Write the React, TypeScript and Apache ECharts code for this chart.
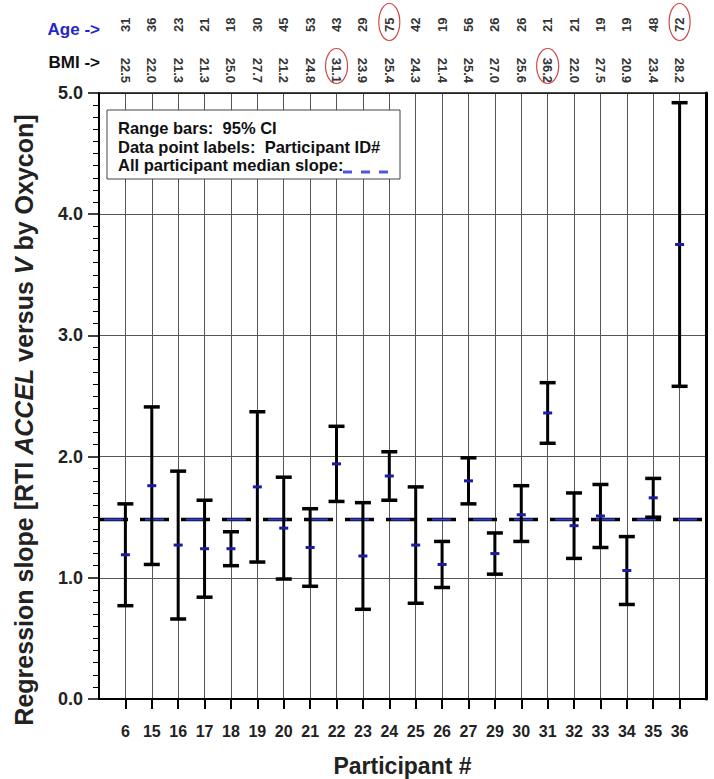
import React, { useEffect, useRef } from "react";
import * as echarts from "echarts";

// ---- data ----
const participants = [6, 15, 16, 17, 18, 19, 20, 21, 22, 23, 24, 25, 26, 27, 29, 30, 31, 32, 33, 34, 35, 36];
const ages = [31, 36, 23, 21, 18, 30, 45, 53, 43, 29, 75, 42, 19, 56, 26, 26, 21, 21, 19, 19, 48, 72];
const bmis = ["22.5", "22.0", "21.3", "21.3", "25.0", "27.7", "21.2", "24.8", "31.1", "23.9", "25.4", "24.3", "21.4", "25.4", "27.0", "25.6", "36.2", "22.0", "27.5", "20.9", "23.4", "28.2"];
const slopes = [1.19, 1.76, 1.27, 1.24, 1.24, 1.75, 1.41, 1.25, 1.94, 1.18, 1.84, 1.27, 1.11, 1.8, 1.2, 1.52, 2.36, 1.43, 1.51, 1.06, 1.66, 3.75];
const ciLow = [0.77, 1.11, 0.66, 0.84, 1.1, 1.13, 0.99, 0.93, 1.63, 0.74, 1.64, 0.79, 0.92, 1.61, 1.03, 1.3, 2.11, 1.16, 1.25, 0.78, 1.5, 2.58];
const ciHigh = [1.61, 2.41, 1.88, 1.64, 1.38, 2.37, 1.83, 1.57, 2.25, 1.62, 2.04, 1.75, 1.3, 1.99, 1.37, 1.76, 2.61, 1.7, 1.77, 1.34, 1.82, 4.92];
const medianAll = 1.48;
const yTicks = [0, 1, 2, 3, 4, 5];
const circledBmi = [22, 31];
const circledAge = [24, 36];

const FF = '"Liberation Sans", Arial, Helvetica, sans-serif';

export default function App() {
  const ref = useRef<HTMLDivElement>(null);
  useEffect(() => {
    document.body.style.margin = "0";
    const chart = echarts.init(ref.current!, null, { renderer: "svg" });
    const n = participants.length;
    const idx = participants.map((_, i) => i + 1);
    const labelOf = (arr: any[]) => (v: number) => (v >= 1 && v <= n ? String(arr[Math.round(v) - 1]) : "");

    const option: any = {
      animation: false,
      grid: { left: 99, right: 8, top: 93, bottom: 80, containLabel: false, outerBoundsMode: "none" },
      xAxis: [
        {
          type: "value", min: 0, max: n + 1, interval: 1, position: "bottom",
          axisLine: { show: true, onZero: false, lineStyle: { color: "#000", width: 2 } },
          axisTick: { show: true, length: 10, customValues: idx, lineStyle: { color: "#000", width: 2 } },
          axisLabel: { formatter: labelOf(participants), margin: 24, fontSize: 16, fontWeight: "bold", color: "#222", fontFamily: FF, customValues: idx },
          splitLine: { show: true, lineStyle: { color: "#555", width: 1 } },
          name: "Participant #", nameLocation: "middle", nameGap: 55,
          nameTextStyle: { fontSize: 23, fontWeight: "bold", color: "#222", fontFamily: FF },
        },
        {
          type: "value", min: 0, max: n + 1, interval: 1, position: "top",
          axisLine: { show: true, onZero: false, lineStyle: { color: "#111", width: 1.5 } },
          axisTick: { show: false },
          axisLabel: { rotate: 90, margin: 10, formatter: labelOf(bmis), fontSize: 13, fontWeight: "bold", color: "#333", fontFamily: FF },
          splitLine: { show: false },
        },
        {
          type: "value", min: 0, max: n + 1, interval: 1, position: "top", offset: 51,
          axisLine: { show: false }, axisTick: { show: false },
          axisLabel: { rotate: 90, margin: 10, formatter: labelOf(ages), fontSize: 13, fontWeight: "bold", color: "#333", fontFamily: FF },
          splitLine: { show: false },
        },
      ],
      yAxis: [
        {
          type: "value", min: yTicks[0], max: yTicks[yTicks.length - 1], interval: 1,
          axisLine: { show: true, onZero: false, lineStyle: { color: "#000", width: 2 } },
          axisTick: { show: true, length: 11, lineStyle: { color: "#000", width: 1.5 } },
          minorTick: { show: true, splitNumber: 10, length: 6, lineStyle: { color: "#000", width: 1 } },
          axisLabel: { formatter: (v: number) => v.toFixed(1), margin: 16, fontSize: 18, fontWeight: "bold", color: "#222", fontFamily: FF },
          splitLine: { show: true, lineStyle: { color: "#555", width: 1 } },
        },
        {
          type: "value", min: yTicks[0], max: yTicks[yTicks.length - 1], position: "right",
          axisLine: { show: true, onZero: false, lineStyle: { color: "#000", width: 3 } },
          axisTick: { show: false }, axisLabel: { show: false }, splitLine: { show: false },
        },
      ],
      series: [
        {
          type: "line", xAxisIndex: 0, yAxisIndex: 0, z: 2, symbol: "none", silent: true,
          data: [[0, medianAll], [n + 1, medianAll]],
          lineStyle: { color: "#000", width: 3.5, type: [29, 12] },
        },
        {
          type: "line", xAxisIndex: 0, yAxisIndex: 0, z: 3, symbol: "none", silent: true,
          data: [[0, medianAll], [n + 1, medianAll]],
          lineStyle: { color: "#2f3fd6", width: 2, type: [19, 22], dashOffset: 36 },
        },
        {
          type: "custom", xAxisIndex: 0, yAxisIndex: 0, z: 5,
          data: participants.map((_, i) => [i + 1, ciLow[i], ciHigh[i], slopes[i]]),
          encode: { x: 0, y: [1, 2, 3] },
          renderItem: (params: any, api: any) => {
            const x = api.value(0);
            const lo = api.coord([x, api.value(1)]);
            const hi = api.coord([x, api.value(2)]);
            const md = api.coord([x, api.value(3)]);
            const cap = 8;
            return {
              type: "group",
              children: [
                { type: "line", shape: { x1: lo[0], y1: lo[1], x2: hi[0], y2: hi[1] }, style: { stroke: "#000", lineWidth: 3 } },
                { type: "line", shape: { x1: lo[0] - cap, y1: lo[1], x2: lo[0] + cap, y2: lo[1] }, style: { stroke: "#000", lineWidth: 3.5 } },
                { type: "line", shape: { x1: hi[0] - cap, y1: hi[1], x2: hi[0] + cap, y2: hi[1] }, style: { stroke: "#000", lineWidth: 3.5 } },
                { type: "line", shape: { x1: md[0] - 4.5, y1: md[1], x2: md[0] + 4.5, y2: md[1] }, style: { stroke: "#1c1ca0", lineWidth: 3 } },
              ],
            };
          },
        },
      ],
    };
    chart.setOption(option);

    const px = (pid: number) => chart.convertToPixel({ xAxisIndex: 0 }, participants.indexOf(pid) + 1) as number;
    const txt = (x: number, y: number, text: string, size: number, fill: string, align = "left") => ({
      type: "text", x, y, z: 20,
      style: { text, fill, font: `bold ${size}px ${FF}`, align, verticalAlign: "middle" },
    });
    const graphic: any[] = [
      txt(100, 29, "Age ->", 17, "#2626c8", "right"),
      txt(100, 62, "BMI ->", 17, "#111", "right"),
      {
        type: "rect", z: 15, shape: { x: 107, y: 110, width: 293, height: 69 },
        style: { fill: "#fff", stroke: "#444", lineWidth: 1 },
      },
      txt(118, 128, "Range bars:  95% CI", 16.5, "#111"),
      txt(118, 147, "Data point labels:  Participant ID#", 16.5, "#111"),
      txt(118, 165, "All participant median slope:", 16.5, "#111"),
      {
        type: "line", z: 20, shape: { x1: 343, y1: 172, x2: 391, y2: 172 },
        style: { stroke: "#4a5ae0", lineWidth: 3, lineDash: [9, 9] },
      },
      {
        type: "text", x: 24, y: 420, rotation: Math.PI / 2, z: 20,
        style: {
          text: "{b|Regression slope [RTI }{i|ACCEL}{b| versus }{i|V}{b| by Oxycon]}",
          align: "center", verticalAlign: "middle",
          font: `bold 25px ${FF}`, fill: "#222",
          rich: {
            b: { fontSize: 25, fontWeight: "bold", fontFamily: FF, fill: "#222", color: "#222" },
            i: { fontSize: 25, fontWeight: "bold", fontStyle: "italic", fontFamily: FF, fill: "#222", color: "#222" },
          },
        },
      },
    ];
    circledBmi.forEach((pid) => {
      graphic.push({ type: "ellipse", z: 20, shape: { cx: px(pid), cy: 66, rx: 11, ry: 17.5 }, style: { fill: "none", stroke: "#d04848", lineWidth: 1.2 } });
    });
    circledAge.forEach((pid) => {
      graphic.push({ type: "ellipse", z: 20, shape: { cx: px(pid), cy: 22, rx: 10.5, ry: 18.5 }, style: { fill: "none", stroke: "#d04848", lineWidth: 1.2 } });
    });
    chart.setOption({ graphic });

    return () => chart.dispose();
  }, []);
  return <div ref={ref} style={{ width: 714, height: 779 }} />;
}
